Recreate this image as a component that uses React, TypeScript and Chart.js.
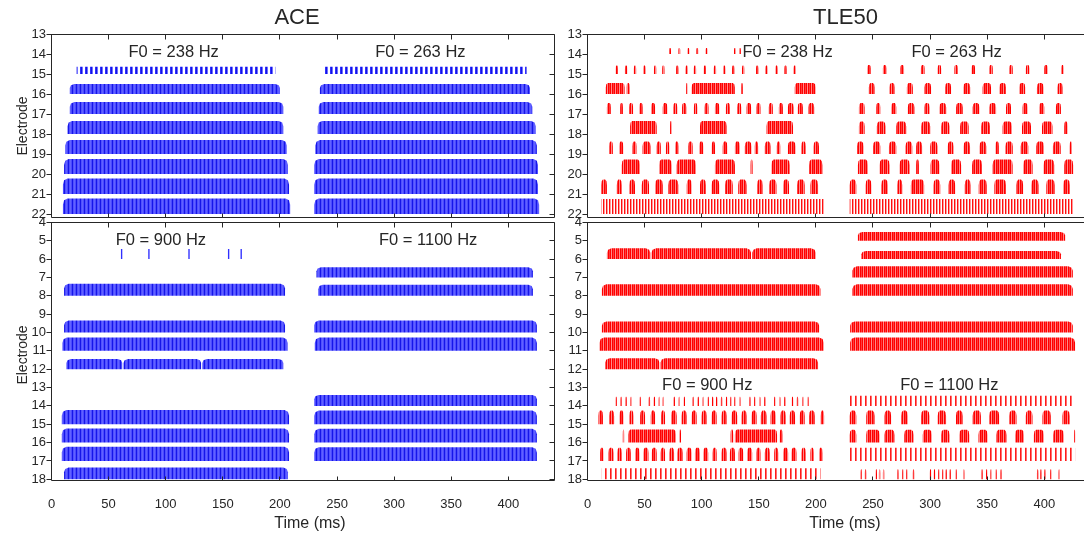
import React, { useEffect, useRef } from 'react';
import { Chart, registerables } from 'chart.js';

Chart.register(...registerables);

type Row = [number, number, number[][]];
type Label = [string, number, number];

// ---------- axes ----------
const X_TICKS = [0, 50, 100, 150, 200, 250, 300, 350, 400];
const Y_TICKS_HI = [13, 14, 15, 16, 17, 18, 19, 20, 21, 22];
const Y_TICKS_LO = [4, 5, 6, 7, 8, 9, 10, 11, 12, 13, 14, 15, 16, 17, 18];

// ---------- ACE, F0 = 238 / 263 Hz (electrode, level, [start ms, end ms]) ----------
const ACE_HI_BANDS: Row[] = [
  [16, 0.5, [[16, 200], [235, 419]]],
  [17, 0.6, [[16, 203], [234, 421]]],
  [18, 0.65, [[14, 203], [233, 424]]],
  [19, 0.7, [[12, 206], [231, 425]]],
  [20, 0.75, [[11, 207], [230, 426]]],
  [21, 0.78, [[10, 208], [230, 426]]],
  [22, 0.78, [[10, 209], [230, 427]]],
];
const ACE_HI_SPARSE: Row[] = [[15, 0.36, [[22, 196], [239.5, 416]]]];

// ---------- ACE, F0 = 900 / 1100 Hz ----------
const ACE_LO_BANDS: Row[] = [
  [7, 0.55, [[232, 421.5]]],
  [8, 0.65, [[11, 204.5]]],
  [8, 0.6, [[233.5, 421.5]]],
  [10, 0.65, [[11, 204.5], [230, 425]]],
  [11, 0.72, [[9.5, 206.8], [230.5, 425]]],
  [12, 0.55, [[13, 62], [63, 131], [132, 203]]],
  [14, 0.6, [[230, 425]]],
  [15, 0.78, [[9, 208]]],
  [15, 0.75, [[230, 425]]],
  [16, 0.77, [[9, 208]]],
  [16, 0.75, [[230, 425]]],
  [17, 0.78, [[9, 208]]],
  [17, 0.75, [[230, 425]]],
  [18, 0.64, [[11, 207]]],
];
const ACE_LO_PULSES: Row[] = [
  [6, 0.55, [[60.8, 62], [84.7, 85.9], [119.8, 121], [154.5, 155.7], [165.5, 166.7]]],
];

// ---------- TLE50, F0 = 238 / 263 Hz ----------
const TLE_HI_BURSTS: Row[] = [
  [14, 0.3, [[71.5, 73.1], [79.6, 81.2], [87.5, 89.1], [95.3, 96.9], [103.5, 105.1], [128.3, 129.9], [132.7, 134.3]]],
  [15, 0.42, [[24.7, 26.7], [32.8, 34.8], [40.6, 42.6], [48.8, 50.8], [58.2, 60.2], [65.4, 67.4], [77.6, 79.6], [85.9, 87.9], [93.1, 95.1], [101.8, 103.8], [110.6, 112.6], [118.7, 120.7], [126.6, 128.6], [135.3, 137.3], [147.6, 149.6], [155.8, 157.8], [164.5, 166.5], [172.4, 174.4], [180.5, 182.5]]],
  [15, 0.45, [[245, 248], [258.7, 261.7], [274, 277.2], [292, 295.2], [306.7, 309.7], [321.3, 324.3], [336.4, 339.4], [351.9, 354.9], [369.4, 372.4], [383.9, 386.9], [400, 403], [415, 417]]],
  [16, 0.55, [[16, 32.5], [34.3, 36.9], [86.4, 87.6], [91.2, 129], [134.5, 136], [181.5, 199.8]]],
  [16, 0.55, [[246.4, 251.4], [264.5, 268.9], [279.7, 284.9], [295.1, 300.9], [313.2, 318.4], [329.2, 335.1], [346, 353.4], [360.7, 366.5], [378.1, 383.3], [393.6, 399.4], [411.6, 416]]],
  [17, 0.55, [[17, 20.4], [28.6, 31], [36.4, 39.9], [45.4, 48.3], [55.7, 59.2], [65.9, 69.9], [75.2, 78.6], [82.8, 86.5], [93.2, 96.1], [102.6, 106], [111.6, 115.4], [121.2, 124.7], [131.1, 134.6], [139.3, 143.3], [148, 151.5], [158.8, 162.3], [167.6, 171.1], [175.5, 180.5], [184.2, 188.6], [193.5, 198.5]]],
  [17, 0.55, [[237.7, 242.7], [252.9, 256.4], [266, 270.4], [280.5, 286.3], [295.1, 299.5], [308.2, 314.1], [322.8, 328.6], [337.3, 343.2], [351.9, 357.8], [366.5, 370.9], [381, 385.4], [395.6, 400], [410.2, 414.6]]],
  [18, 0.65, [[37.3, 60.6], [72.3, 73.8], [98.5, 121.8], [156.8, 180]]],
  [18, 0.62, [[237.7, 242.7], [253.4, 261], [270.4, 279.1], [292.2, 300.1], [309.7, 317], [326.3, 333.8], [344.7, 352.5], [363.5, 371.7], [380.5, 388.4], [398, 407.2], [417.5, 420.4]]],
  [19, 0.62, [[19, 22.2], [27.8, 31.3], [39.4, 42.9], [48.2, 55.2], [60.6, 64.2], [68.7, 71.6], [76.7, 79.6], [88.3, 92.1], [97.9, 101.4], [108.8, 111.7], [118.4, 122.4], [129.1, 133.4], [137.8, 143.6], [146.5, 149.4], [155.3, 160.3], [165.8, 168.8], [175.5, 182.2], [187.3, 191.1], [198, 202.7]]],
  [19, 0.62, [[236, 241.8], [250, 256.4], [264, 270.4], [278.5, 284.4], [287.8, 293], [300.1, 306.5], [315.5, 320.5], [329.4, 335], [343.3, 349.2], [357.3, 360.2], [366, 372.4], [379.4, 386], [393, 399.8], [407.6, 414.4], [422.3, 424.3]]],
  [20, 0.73, [[30, 46], [62.7, 73.8], [78.1, 95], [111.6, 129.1], [142.8, 144.6], [161.1, 177.1], [194, 205.7]]],
  [20, 0.73, [[236.8, 245.6], [255.8, 264.5], [273.3, 282.1], [287.8, 290.2], [300.4, 308.2], [318.4, 327.2], [336.8, 345.5], [354.8, 372.3], [381.6, 389.8], [399.4, 408.7], [417.5, 425.3]]],
  [21, 0.73, [[12, 17], [25.7, 30], [36.7, 41.6], [47.5, 53.9], [59.2, 65.9], [70.8, 79.5], [86.9, 91.2], [98.5, 103.7], [108.7, 115.4], [120.4, 127.2], [132, 139.3], [148.6, 153.3], [159.1, 165.5], [171.3, 176.5], [183.5, 190.2], [195.2, 201.9]]],
  [21, 0.73, [[229.6, 235.4], [243.6, 248.6], [257.3, 263.1], [271.3, 275.6], [283.2, 294.8], [303, 308.9], [316.2, 322], [330.4, 335.4], [342.6, 349.6], [356.3, 366.5], [375.6, 381.5], [388.6, 395], [401.8, 409.1], [416.6, 422.4]]],
];
const TLE_HI_TRAINS: Row[] = [[22, 0.75, [[12, 207], [229.6, 426]]]];

// ---------- TLE50, F0 = 900 / 1100 Hz ----------
const TLE_LO_BANDS: Row[] = [
  [5, 0.47, [[236.8, 418.3]]],
  [6, 0.58, [[17, 55], [56, 143.2], [144.3, 199.9]]],
  [6, 0.44, [[239.8, 414.6]]],
  [7, 0.6, [[232, 425]]],
  [8, 0.62, [[12.6, 204], [232, 425]]],
  [10, 0.6, [[12.6, 202.9], [230, 425]]],
  [11, 0.73, [[10.5, 206.9], [230, 427]]],
  [12, 0.6, [[15.5, 63], [64, 201.9]]],
];
const TLE_LO_SPARSE: Row[] = [
  [14, 0.55, [[229.6, 425]]],
  [17, 0.72, [[229.6, 427]]],
  [18, 0.6, [[12.5, 204]]],
];
const TLE_LO_BURSTS: Row[] = [
  [14, 0.5, [[24.5, 25.7], [28.9, 30.1], [33.2, 34.4], [37.6, 38.8], [45.5, 46.7], [53.6, 54.8], [58, 59.2], [62.3, 63.5], [65.8, 67], [75.4, 76.6], [79.8, 81], [84.2, 85.4], [92, 93.2], [96.4, 97.6], [100.8, 102], [105.1, 106.3], [109, 110.2], [112.5, 113.7], [116.8, 118], [121.2, 122.4], [125, 126.2], [128.5, 129.7], [132.8, 134], [141.6, 142.8], [145.9, 147.1], [150.3, 151.5], [154.7, 155.9], [163.4, 164.6], [167.8, 169], [172.2, 173.4], [178.9, 180.1], [183.3, 184.5], [188.2, 189.4], [192.5, 193.7]]],
  [15, 0.75, [[9.6, 13.5], [19, 23.3], [28, 31.5], [36.7, 40.2], [46.1, 50.4], [55.4, 59.2], [64.4, 67.9], [73.1, 78.1], [82.4, 86.8], [91.2, 95.6], [99.9, 104.3], [108.7, 113.1], [117.4, 121.8], [126.2, 131.1], [134.9, 139.3], [143.7, 148.1], [151.8, 156.8], [160.3, 164.9], [169, 173.6], [177.1, 181.8], [185.9, 190.2], [194, 199], [204.3, 207.2]]],
  [15, 0.75, [[229.6, 235.4], [244.1, 251.4], [260.1, 265.9], [274.7, 280.5], [292.1, 299.4], [306.7, 314], [322.7, 328.5], [337.3, 344.5], [351.8, 360.5], [369.3, 375.7], [383.8, 389.7], [398.4, 405.7], [415.9, 422.3]]],
  [16, 0.72, [[30.9, 32.1], [35.8, 77.5], [80.4, 81.9], [125.3, 127.6], [129.1, 166], [168.4, 170.7]]],
  [16, 0.7, [[229.6, 235.4], [244.1, 255.8], [260.1, 268.8], [277.4, 285.5], [293.6, 301.5], [309.7, 317], [325.6, 334.3], [342.4, 350.3], [358.1, 366.9], [374.4, 382.2], [390.9, 399.6], [407.8, 417.1], [426.2, 427.1]]],
  [17, 0.72, [[11.1, 14], [18.4, 22.8], [26.2, 30], [33.8, 37.9], [41.7, 45.5], [48.9, 53.4], [56.3, 60.6], [64.1, 67.9], [71.7, 75.8], [78.7, 83.3], [86.8, 91.2], [94.1, 98.5], [101.4, 105.7], [109.6, 113.1], [117.4, 121.8], [124.7, 129.1], [132.3, 136.4], [139.8, 144.2], [148, 151.5], [155.3, 159.7], [163.5, 167], [171.3, 175.7], [178.6, 183], [187.4, 191.1], [195.2, 198.1], [202.8, 205.7]]],
  [18, 0.55, [[239.2, 240.4], [242.9, 244.1], [252.3, 253.5], [255.2, 256.4], [258.7, 259.9], [271.2, 272.4], [275.6, 276.8], [279.1, 280.3], [284.9, 286.1], [299.8, 301], [303.3, 304.5], [307.1, 308.3], [310.6, 311.8], [313.5, 314.7], [317, 318.2], [322.2, 323.4], [328.9, 330.1], [344.9, 346.1], [349, 350.2], [352.8, 354], [357.2, 358.4], [361.6, 362.8], [393.6, 394.8], [396.5, 397.7], [400, 401.2], [405.2, 406.4], [412.5, 413.7]]],
];

// ---------- in-plot annotations [text, time ms, electrode] ----------
const ACE_HI_LABELS: Label[] = [['F0 = 238 Hz', 107, 13.92], ['F0 = 263 Hz', 323, 13.92]];
const ACE_LO_LABELS: Label[] = [['F0 = 900 Hz', 95.8, 5.0], ['F0 = 1100 Hz', 329.8, 5.0]];
const TLE_HI_LABELS: Label[] = [['F0 = 238 Hz', 175.2, 13.92], ['F0 = 263 Hz', 323.3, 13.92]];
const TLE_LO_LABELS: Label[] = [['F0 = 900 Hz', 104.9, 12.86], ['F0 = 1100 Hz', 316.9, 12.86]];

// ---------- layout / style ----------
const W = 1084;
const H = 535;
const FONT = '"Liberation Sans", Arial, Helvetica, sans-serif';
const INK = '#262626';
const Y_AXIS_W = 40;

function makePattern(cols: string[]): CanvasPattern | string {
  const c = document.createElement('canvas');
  c.width = cols.length;
  c.height = 1;
  const g = c.getContext('2d');
  if (!g) return cols[0];
  cols.forEach((col, i) => {
    if (col !== 'none') {
      g.fillStyle = col;
      g.fillRect(i, 0, 1, 1);
    }
  });
  return g.createPattern(c, 'repeat') || cols[0];
}

function rowDatasets(rows: Row[], fillStyle: CanvasPattern | string, round: number) {
  return rows.map(([el, level, spans]) => {
    const pts: { x: number; y: number }[] = [];
    for (const [s, e] of spans) {
      const r = Math.min(round, (e - s) * 0.3);
      pts.push({ x: s, y: el });
      pts.push({ x: s, y: el - level * 0.6 });
      pts.push({ x: s + r * 0.25, y: el - level * 0.88 });
      pts.push({ x: s + r, y: el - level });
      pts.push({ x: e - r, y: el - level });
      pts.push({ x: e - r * 0.25, y: el - level * 0.88 });
      pts.push({ x: e, y: el - level * 0.6 });
      pts.push({ x: e, y: el });
    }
    return {
      data: pts,
      fill: 'shape',
      backgroundColor: fillStyle,
      borderColor: 'rgba(0,0,0,0)',
      borderWidth: 0,
      borderDash: [2, 2],
      pointRadius: 0,
      pointHoverRadius: 0,
      tension: 0,
    };
  });
}

const framePlugin = {
  id: 'frame',
  afterDraw(chart: any) {
    const { ctx, chartArea: a, scales } = chart;
    const c = (v: number) => Math.round(v - 0.5) + 0.5;
    const L = c(a.left), R = c(a.right), T = c(a.top), B = c(a.bottom);
    const rightVisible = R < W - 1;
    ctx.save();
    ctx.strokeStyle = INK;
    ctx.lineWidth = 1;
    ctx.beginPath();
    ctx.moveTo(L, T);
    ctx.lineTo(R, T);
    ctx.moveTo(L, B);
    ctx.lineTo(R, B);
    ctx.moveTo(L, T);
    ctx.lineTo(L, B);
    if (rightVisible) {
      ctx.moveTo(R, T);
      ctx.lineTo(R, B);
    }
    for (const v of X_TICKS) {
      const x = c(scales.x.getPixelForValue(v));
      if (x <= L + 1 || x >= R - 1) continue;
      ctx.moveTo(x, T);
      ctx.lineTo(x, T + 5);
      ctx.moveTo(x, B);
      ctx.lineTo(x, B - 4);
    }
    if (rightVisible) {
      for (const t of scales.y.ticks) {
        const y = c(scales.y.getPixelForValue(t.value));
        ctx.moveTo(R, y);
        ctx.lineTo(R - 5, y);
      }
    }
    ctx.stroke();
    ctx.restore();
  },
};

const f0Plugin = {
  id: 'f0',
  afterDatasetsDraw(chart: any, _args: any, opts: any) {
    const { ctx, scales } = chart;
    ctx.save();
    ctx.fillStyle = INK;
    ctx.font = `16.5px ${FONT}`;
    ctx.textAlign = 'center';
    ctx.textBaseline = 'middle';
    for (const [t, x, y] of (opts.items || []) as Label[]) {
      ctx.fillText(t, scales.x.getPixelForValue(x), scales.y.getPixelForValue(y));
    }
    ctx.restore();
  },
};

type PanelKey = 'LT' | 'LB' | 'RT' | 'RB';

const GEOM: Record<PanelKey, { left: number; right: number; top: number; bottom: number; xMax: number; yMin: number; yMax: number; lo: boolean }> = {
  LT: { left: 51.5, right: 554, top: 34, bottom: 217.3, xMax: 440, yMin: 13, yMax: 22.165, lo: false },
  LB: { left: 51.5, right: 554, top: 222.3, bottom: 480.5, xMax: 440, yMin: 4, yMax: 18.063, lo: true },
  RT: { left: 587.5, right: 1084, top: 34, bottom: 217.3, xMax: 434.8, yMin: 13, yMax: 22.165, lo: false },
  RB: { left: 587.5, right: 1084, top: 222.3, bottom: 480.5, xMax: 434.8, yMin: 4, yMax: 18.063, lo: true },
};

function buildDatasets(key: PanelKey) {
  const aceBand = makePattern(['#1616e8', '#5050ff', '#6262ff', '#4a4aff']);
  const aceSparse = makePattern(['#3030ff', '#1414e6', '#7070ff', 'none', 'none']);
  const tleBurst = makePattern(['#ff0000', '#ff3c3c', '#ff0000', '#ff8a8a']);
  const tleTrain = makePattern(['#ff1010', '#ff9a9a', 'none']);
  const tleSparse = makePattern(['#ff1a1a', '#ff7070', 'none', 'none', 'none']);
  if (key === 'LT') return [...rowDatasets(ACE_HI_BANDS, aceBand, 4), ...rowDatasets(ACE_HI_SPARSE, aceSparse, 0)];
  if (key === 'LB') return [...rowDatasets(ACE_LO_BANDS, aceBand, 4), ...rowDatasets(ACE_LO_PULSES, '#3030ff', 0)];
  if (key === 'RT') return [...rowDatasets(TLE_HI_BURSTS, tleBurst, 1.8), ...rowDatasets(TLE_HI_TRAINS, tleTrain, 0)];
  return [
    ...rowDatasets(TLE_LO_BANDS, tleBurst, 4),
    ...rowDatasets(TLE_LO_SPARSE, tleSparse, 0),
    ...rowDatasets(TLE_LO_BURSTS, tleBurst, 1.8),
  ];
}

const LABELS: Record<PanelKey, Label[]> = { LT: ACE_HI_LABELS, LB: ACE_LO_LABELS, RT: TLE_HI_LABELS, RB: TLE_LO_LABELS };

function Panel({ panel }: { panel: PanelKey }) {
  const ref = useRef<HTMLCanvasElement | null>(null);
  useEffect(() => {
    const g = GEOM[panel];
    const xAxisH = g.lo ? 30 : 0;
    const tickFont = { family: FONT, size: 13 };
    const chart = new Chart(ref.current as HTMLCanvasElement, {
      type: 'line',
      data: { datasets: buildDatasets(panel) as any },
      options: {
        responsive: false,
        animation: false,
        events: [],
        layout: {
          padding: { left: g.left - Y_AXIS_W, right: W - g.right, top: g.top, bottom: H - g.bottom - xAxisH },
        },
        plugins: {
          legend: { display: false },
          tooltip: { enabled: false },
          f0: { items: LABELS[panel] },
        } as any,
        scales: {
          x: {
            type: 'linear',
            min: 0,
            max: g.xMax,
            position: 'bottom',
            grid: { display: false },
            border: { display: false },
            ticks: { display: g.lo, padding: 8.4, font: tickFont, color: INK, maxRotation: 0, autoSkip: false },
            afterBuildTicks: (s: any) => {
              s.ticks = X_TICKS.map((v) => ({ value: v }));
            },
            afterFit: (s: any) => {
              s.height = xAxisH;
            },
          },
          y: {
            type: 'linear',
            min: g.yMin,
            max: g.yMax,
            reverse: true,
            position: 'left',
            grid: { drawOnChartArea: false, drawTicks: true, tickLength: 5, color: INK, lineWidth: 1 },
            border: { display: false },
            ticks: { padding: 0.5, font: tickFont, color: INK, autoSkip: false },
            afterBuildTicks: (s: any) => {
              s.ticks = (g.lo ? Y_TICKS_LO : Y_TICKS_HI).map((v) => ({ value: v }));
            },
            afterFit: (s: any) => {
              s.width = Y_AXIS_W;
            },
          },
        },
      } as any,
      plugins: [framePlugin, f0Plugin],
    });
    return () => chart.destroy();
  }, [panel]);
  return <canvas ref={ref} width={W} height={H} style={{ position: 'absolute', left: 0, top: 0, width: W, height: H }} />;
}

function Txt({ x, y, size, text, rotate }: { x: number; y: number; size: number; text: string; rotate?: boolean }) {
  return (
    <div
      style={{
        position: 'absolute',
        left: x,
        top: y,
        fontSize: size,
        lineHeight: 1,
        whiteSpace: 'nowrap',
        transform: `translate(-50%, -50%)${rotate ? ' rotate(-90deg)' : ''}`,
        color: INK,
      }}
    >
      {text}
    </div>
  );
}

export default function App() {
  return (
    <div
      style={{
        position: 'fixed',
        left: 0,
        top: 0,
        width: W,
        height: H,
        background: '#ffffff',
        overflow: 'hidden',
        fontFamily: FONT,
      }}
    >
      <Panel panel="LT" />
      <Panel panel="LB" />
      <Panel panel="RT" />
      <Panel panel="RB" />
      <Txt x={297} y={17} size={22} text="ACE" />
      <Txt x={845.5} y={17} size={22} text="TLE50" />
      <Txt x={22.3} y={126} size={14} text="Electrode" rotate />
      <Txt x={22.3} y={355} size={14} text="Electrode" rotate />
      <Txt x={310} y={522.5} size={16} text="Time (ms)" />
      <Txt x={845} y={522.5} size={16} text="Time (ms)" />
    </div>
  );
}
